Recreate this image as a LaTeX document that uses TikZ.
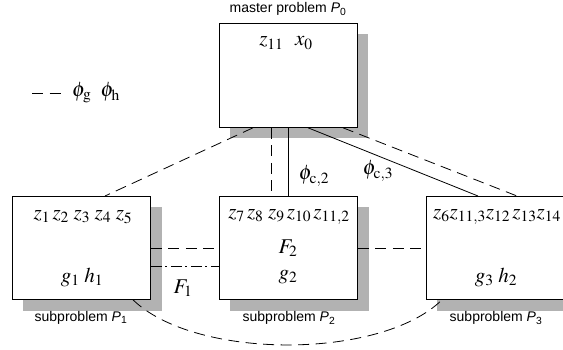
\documentclass[tikz,border=0pt]{standalone}
\usepackage{mathptmx}
\usepackage[no-math]{fontspec}
\setmainfont{Liberation Serif}
\setsansfont{Liberation Sans}
\usetikzlibrary{calc}
\begin{document}
\begin{tikzpicture}[x=1pt,y=-1pt,
  probbox/.style={draw, fill=white, line width=0.8pt, minimum width=138pt, minimum height=103pt, inner sep=0pt, anchor=north west},
  shadowc/.style={fill=black!30},
  dsh/.style={dash pattern=on 11pt off 6.5pt, line width=0.8pt},
  dshdot/.style={dash pattern=on 11pt off 3.5pt on 2pt off 3.5pt, line width=0.8pt},
  sld/.style={line width=0.8pt},
  mtxt/.style={font=\fontsize{21}{24}\selectfont, inner sep=0pt},
  lbl/.style={font=\sffamily\fontsize{14}{16}\selectfont, inner sep=0pt}]
\clip (0,0) rectangle (563,350);
\useasboundingbox (0,0) rectangle (563,350);
% shadows
\fill[shadowc] (230,34) rectangle (368,138);
\fill[shadowc] (23,207) rectangle (162,311);
\fill[shadowc] (230,207) rectangle (369,311);
\fill[shadowc] (437,207) rectangle (575,311);
% boxes
\node[probbox, minimum height=104pt] (m) at (219,23) {};
\node[probbox] (s1) at (12,196) {};
\node[probbox] (s2) at (219,196) {};
\node[probbox] (s3) at (426,196) {};
% labels
\node[lbl] (lm) at (288,9) {master problem \textit{P}\textsubscript{0}};
\node[lbl] (l1) at (81,318) {subproblem \textit{P}\textsubscript{1}};
\node[lbl] (l2) at (289,318) {subproblem \textit{P}\textsubscript{2}};
\node[lbl] (l3) at (496,318) {subproblem \textit{P}\textsubscript{3}};
% box texts
\node[mtxt] (tm) at (286,43) {$z_{11}\;\;\, x_0$};
\node[mtxt] (t1a) at (83,217) {$z_1\,z_2\;z_3\;z_4\;z_5$};
\node[mtxt] (t1b) at (82,277) {$g_1\;h_1$};
\node[mtxt] (t2a) at (289,217) {$z_7\,z_8\;z_9\,z_{10}\,z_{11,2}$};
\node[mtxt] (t2b) at (288,248) {$F_2$};
\node[mtxt] (t2c) at (288,277) {$g_2$};
\node[mtxt] (t3a) at (497,217) {$z_6z_{11,3}z_{12}\,z_{13}z_{14}$};
\node[mtxt] (t3b) at (496,277) {$g_3\;h_2$};
\node[mtxt] (pc2) at (314,176) {$\phi_{\mathrm{c},2}$};
\node[mtxt] (pc3) at (378,171) {$\phi_{\mathrm{c},3}$};
\node[mtxt] (f1) at (183,288) {$F_1$};
% legend
\coordinate (lg1) at (32,93);
\coordinate (lg2) at (61,93);
\draw[dsh] (lg1) -- (lg2);
\node[mtxt, anchor=west] (lgt) at (72,93) {$\phi_{\mathrm{g}}\;\;\phi_{\mathrm{h}}$};
% connectors
\draw[dsh] ($(m.south west)+(34,0)$) -- ($(s1.north west)+(93,0)$);
\draw[dsh] ($(m.south west)+(52,0)$) -- ($(s2.north west)+(52,0)$);
\draw[sld] ($(m.south west)+(69,0)$) -- ($(s2.north west)+(69,0)$);
\draw[sld] ($(m.south west)+(89,0)$) -- ($(s3.north west)+(52,0)$);
\draw[dsh] ($(m.south west)+(124,0)$) -- ($(s3.north west)+(91,0)$);
\draw[dsh] ($(s1.north east)+(0,52)$) -- ($(s2.north west)+(0,52)$);
\draw[dshdot] ($(s1.north east)+(0,70)$) -- ($(s2.north west)+(0,70)$);
\draw[dsh] ($(s2.north east)+(0,52)$) -- ($(s3.north west)+(0,52)$);
\draw[dsh] ($(s1.south west)+(121,0)$) .. controls (195,360) and (381,360) .. ($(s3.south west)+(16,0)$);
\end{tikzpicture}
\end{document}
